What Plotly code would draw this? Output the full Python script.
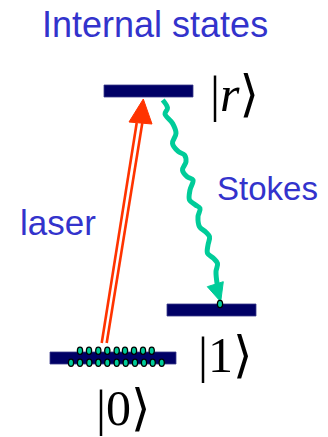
import plotly.graph_objects as go

# ---- data (pixel-space diagram coordinates) ----
level_names = ["|0⟩", "|1⟩", "|r⟩"]
level_x0 = [50, 167, 104]
level_x1 = [176, 256, 193]
level_ytop = [352, 304, 85]
level_ybot = [364, 316, 97]

atom_top_x = [80, 89, 98.3, 107.3, 116.7, 125, 134, 143, 151.7]
atom_top_y = 350.7
atom_bot_x = [71, 80, 89.3, 98.3, 107.3, 116.7, 125.7, 135, 144, 152.7, 161.7]
atom_bot_y = 362.7
atom_one = (220, 304)

laser_left_x = [101.7, 136.7]
laser_left_y = [343, 123]
laser_right_x = [106.7, 142.3]
laser_right_y = [343, 123]
laser_head_x = [143.3, 129, 152, 143.3]
laser_head_y = [99, 122, 124, 99]

stokes_x = [162.7, 167.5, 165, 172.5, 176, 172.5, 178.5, 184.5, 186, 182.5, 187,
            193, 190, 189.5, 195.5, 200, 198, 199.5, 205.5, 209.5, 208, 207.5,
            213.5, 217.5, 216, 217.3]
stokes_y = [100, 108, 114, 123.3, 133.3, 143.3, 151.7, 155, 161.7, 170, 176.7,
            180, 190, 200, 205, 208.3, 216.7, 226.7, 231.7, 236.7, 245, 253.3,
            258.3, 263.3, 271.7, 285]
stokes_head_x = [220.7, 207.3, 223.3, 220.7]
stokes_head_y = [301.7, 286.7, 281.7, 301.7]

labels = ["Internal states", "Stokes", "laser"]
label_x = [155, 267, 57.5]
label_y = [24, 188, 222]
label_size = [36, 33, 35]

ket_text = ["|0⟩", "|1⟩", "|<i>r</i>⟩"]
ket_x = [123.5, 225, 234.5]
ket_y = [407.5, 355, 93.5]

NAVY = "#000066"
TEAL = "#00CC99"
RED = "#FF3300"
BLUE = "#3333CC"

fig = go.Figure()

shapes = []
for x0, x1, y0, y1 in zip(level_x0, level_x1, level_ytop, level_ybot):
    shapes.append(dict(type="rect", xref="x", yref="y", x0=x0, x1=x1, y0=y0, y1=y1,
                       fillcolor=NAVY, line=dict(color="#3a3a8a", width=0.8), layer="below"))

rx, ry = 2.6, 3.6
for cx in atom_bot_x:
    shapes.append(dict(type="circle", xref="x", yref="y", x0=cx - rx, x1=cx + rx,
                       y0=atom_bot_y - ry, y1=atom_bot_y + ry, fillcolor=TEAL,
                       line=dict(color="black", width=1.3), layer="above"))
for cx in atom_top_x:
    shapes.append(dict(type="circle", xref="x", yref="y", x0=cx - rx, x1=cx + rx,
                       y0=atom_top_y - ry, y1=atom_top_y + ry, fillcolor=TEAL,
                       line=dict(color="black", width=1.3), layer="above"))
shapes.append(dict(type="circle", xref="x", yref="y", x0=atom_one[0] - rx, x1=atom_one[0] + rx,
                   y0=atom_one[1] - ry, y1=atom_one[1] + ry, fillcolor=TEAL,
                   line=dict(color="black", width=1.3), layer="above"))

# laser double line
for xs, ys in [(laser_left_x, laser_left_y), (laser_right_x, laser_right_y)]:
    fig.add_trace(go.Scatter(x=xs, y=ys, mode="lines", line=dict(color=RED, width=2.6),
                             hoverinfo="skip"))
fig.add_trace(go.Scatter(x=laser_head_x, y=laser_head_y, mode="lines", fill="toself",
                         fillcolor=RED, line=dict(color=RED, width=1), hoverinfo="skip"))

# stokes wavy arrow
fig.add_trace(go.Scatter(x=stokes_x, y=stokes_y, mode="lines",
                         line=dict(color=TEAL, width=5, shape="spline", smoothing=1.0),
                         hoverinfo="skip"))
fig.add_trace(go.Scatter(x=stokes_head_x, y=stokes_head_y, mode="lines", fill="toself",
                         fillcolor=TEAL, line=dict(color=TEAL, width=1), hoverinfo="skip"))

annotations = []
for t, x, y, s in zip(labels, label_x, label_y, label_size):
    annotations.append(dict(text=t, x=x, y=y, xref="x", yref="y", showarrow=False,
                            xanchor="center", yanchor="middle",
                            font=dict(family="Liberation Sans, Arial", size=s, color=BLUE)))
for t, x, y in zip(ket_text, ket_x, ket_y):
    annotations.append(dict(text=t, x=x, y=y, xref="x", yref="y", showarrow=False,
                            xanchor="center", yanchor="middle",
                            font=dict(family="Liberation Serif, DejaVu Serif", size=50, color="black")))

fig.update_layout(
    width=328, height=437, margin=dict(l=0, r=0, t=0, b=0),
    paper_bgcolor="white", plot_bgcolor="white", showlegend=False,
    xaxis=dict(range=[0, 328], visible=False, fixedrange=True),
    yaxis=dict(range=[437, 0], visible=False, fixedrange=True),
    shapes=shapes, annotations=annotations,
)

fig.write_html("out.html", config={"displayModeBar": False},
               post_script="document.body.style.margin='0';document.body.style.overflow='hidden';")
